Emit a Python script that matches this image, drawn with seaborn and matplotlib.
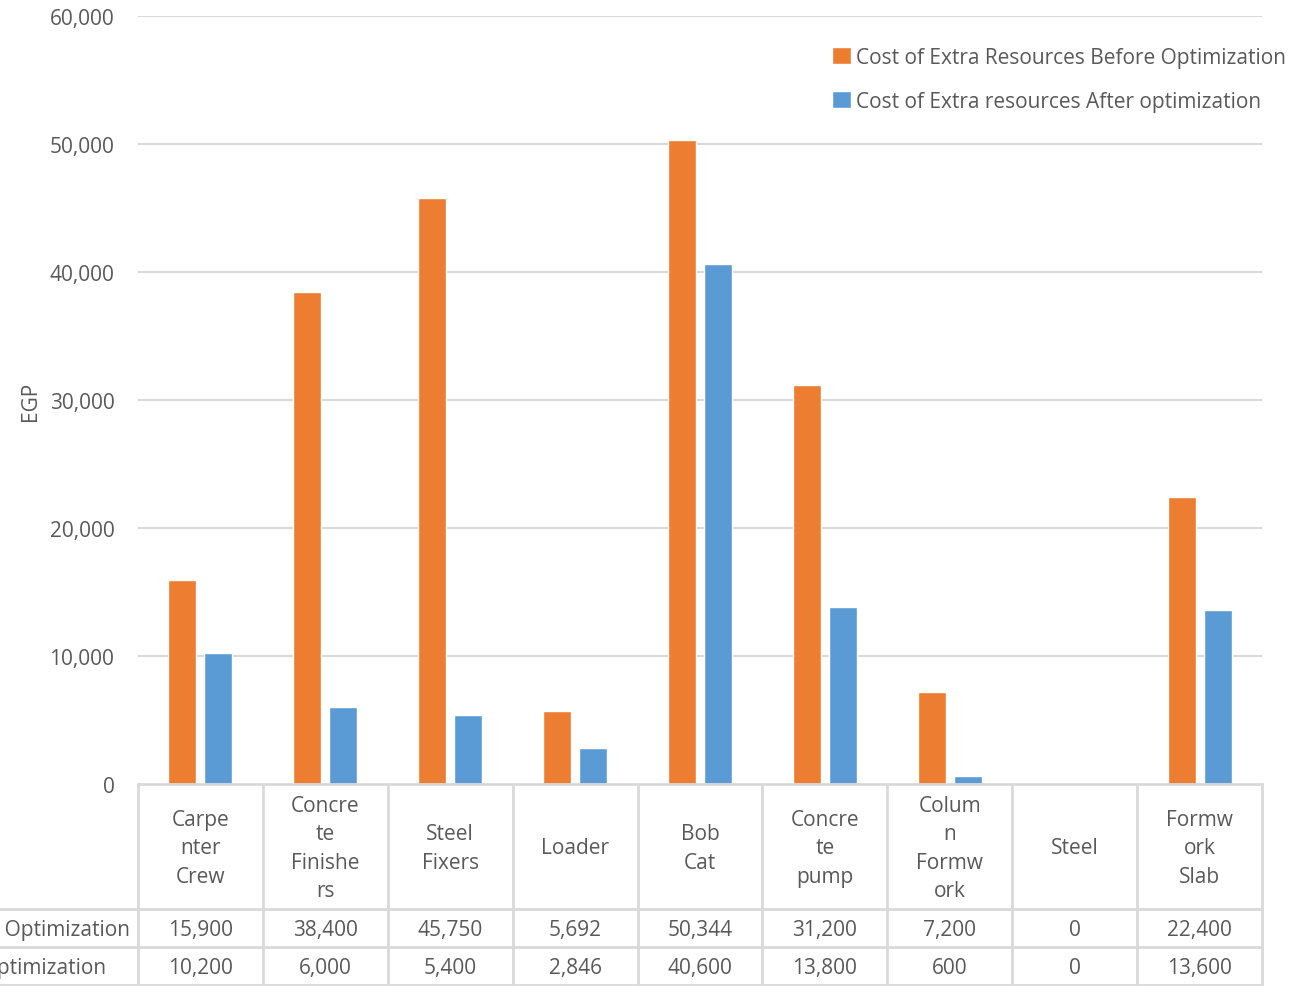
import matplotlib
matplotlib.use("Agg")
import matplotlib.pyplot as plt
import matplotlib.transforms as mtransforms
import seaborn as sns
import pandas as pd

categories = ["Carpe\nnter\nCrew", "Concre\nte\nFinishe\nrs", "Steel\nFixers", "Loader",
              "Bob\nCat", "Concre\nte\npump", "Colum\nn\nFormw\nork", "Steel", "Formw\nork\nSlab"]
before = [15900, 38400, 45750, 5692, 50344, 31200, 7200, 0, 22400]
after = [10200, 6000, 5400, 2846, 40600, 13800, 600, 0, 13600]
series_names = ["Cost of Extra Resources Before Optimization",
                "Cost of Extra resources After optimization"]
y_ticks = [0, 10000, 20000, 30000, 40000, 50000, 60000]

ORANGE = "#ED7D31"
BLUE = "#5B9BD5"
TXT = "#595959"
GRID = "#D9D9D9"

sns.set_theme(style="white")
plt.rcParams["font.family"] = ["Open Sans", "DejaVu Sans"]
FS = 15

df = pd.DataFrame({
    "cat": categories * 2,
    "val": before + after,
    "series": [series_names[0]] * len(categories) + [series_names[1]] * len(categories),
})

W, H = 1297, 987
fig = plt.figure(figsize=(W / 100, H / 100), dpi=100)
ax = fig.add_axes([138 / W, 1 - 785 / H, (1262 - 138) / W, (785 - 17) / H])

sns.barplot(data=df, x="cat", y="val", hue="series", order=categories,
            hue_order=series_names, palette=[ORANGE, BLUE], width=0.576, gap=0.222,
            saturation=1, ax=ax, legend=True)

ax.set_xlim(-0.5, len(categories) - 0.5)
ax.set_ylim(0, 60000)
ax.set_yticks(y_ticks)
ax.set_yticklabels([f"{v:,}" for v in y_ticks], fontsize=FS, color=TXT)
ax.tick_params(axis="y", length=0, pad=17)
ax.set_xticks([])
ax.set_xlabel("")
ax.set_ylabel("EGP", fontsize=FS, color=TXT, labelpad=6)
for v in y_ticks[1:]:
    ax.axhline(v, color=GRID, lw=1.5, zorder=0)
for s in ax.spines.values():
    s.set_visible(False)

# legend
handles, labels = ax.get_legend_handles_labels()
ax.get_legend().remove()
leg = fig.legend(handles, labels, loc="upper left", bbox_to_anchor=(813 / W, 1 - 29 / H),
                 frameon=False, fontsize=FS, handlelength=0.9, handleheight=0.9,
                 handletextpad=0.25, labelspacing=1.1, labelcolor=TXT)

def ay(ypix):
    return (785 - ypix) / (785 - 17)

tr = mtransforms.blended_transform_factory(ax.transData, ax.transAxes)
n = len(categories)
row_lines = [785, 910, 948, 986]
for yp in row_lines:
    x0 = -0.5 if yp == 785 else -2.0
    ax.plot([x0, n - 0.5], [ay(yp), ay(yp)], color=GRID, lw=2, transform=tr, clip_on=False)
for i in range(n + 1):
    ax.plot([i - 0.5, i - 0.5], [ay(785), ay(987)], color=GRID, lw=2, transform=tr, clip_on=False)

for i, c in enumerate(categories):
    ax.text(i, ay(849), c, transform=tr, ha="center", va="center", fontsize=FS, color=TXT,
            linespacing=1.45)
    ax.text(i, ay(931), f"{before[i]:,}", transform=tr, ha="center", va="center", fontsize=FS, color=TXT)
    ax.text(i, ay(969), f"{after[i]:,}", transform=tr, ha="center", va="center", fontsize=FS, color=TXT)

ax.text(-0.5 - 8 / 125, ay(931), series_names[0], transform=tr, ha="right", va="center",
        fontsize=FS, color=TXT)
ax.text(-0.5 - 32 / 125, ay(969), series_names[1], transform=tr, ha="right", va="center",
        fontsize=FS, color=TXT)

fig.savefig("out.png", dpi=100)
